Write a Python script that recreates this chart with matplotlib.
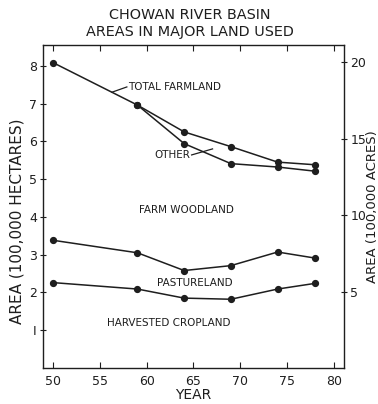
import matplotlib
matplotlib.use("Agg")
import matplotlib.pyplot as plt

# Land use in the Chowan River Basin (100,000 hectares)
years = [50, 59, 64, 69, 74, 78]
total_farmland = [8.08, 6.96, 6.25, 5.86, 5.45, 5.38]
other_years = [59, 64, 69, 74, 78]
other_boundary = [6.96, 5.94, 5.41, 5.32, 5.21]
pasture_boundary = [3.38, 3.05, 2.58, 2.71, 3.07, 2.91]
cropland = [2.26, 2.09, 1.85, 1.82, 2.09, 2.24]

ha_ticks = [1, 2, 3, 4, 5, 6, 7, 8]
ha_ticklabels = ["I", "2", "3", "4", "5", "6", "7", "8"]
acre_ticks = [5, 10, 15, 20]
year_ticks = [50, 55, 60, 65, 70, 75, 80]
ACRES_PER_HECTARE = 2.471

ink = "#1e1e1e"
plt.rcParams["font.family"] = ["DejaVu Sans"]

fig = plt.figure(figsize=(3.78, 4.04), dpi=100)
ax = fig.add_axes([0.1138, 0.0891, 0.7962, 0.7995])

line_kw = dict(color=ink, lw=1.1, marker="o", ms=4.2, mfc=ink, mec=ink)
ax.plot(years, total_farmland, **line_kw)
ax.plot(other_years, other_boundary, **line_kw)
ax.plot(years, pasture_boundary, **line_kw)
ax.plot(years, cropland, **line_kw)

ax.set_xlim(48.9, 81.1)
ax.set_ylim(0, 8.55)
ax.set_xticks(year_ticks)
ax.set_yticks(ha_ticks)
ax.set_yticklabels(ha_ticklabels)
ax.tick_params(axis="x", direction="in", length=4, width=0.8, top=True,
               labelsize=9, colors=ink, pad=5)
ax.tick_params(axis="y", direction="inout", length=5, width=0.8,
               labelsize=9, colors=ink, pad=2)
for s in ax.spines.values():
    s.set_color(ink)
    s.set_linewidth(1.0)

ax.set_xlabel("YEAR", fontsize=10, color=ink, labelpad=0)
ax.set_ylabel("AREA (100,000 HECTARES)", fontsize=11, color=ink)
ax.yaxis.set_label_coords(-0.062, 0.455)

# Secondary scale in acres
ax2 = ax.twinx()
ax2.set_ylim(0, 8.55 * ACRES_PER_HECTARE)
ax2.set_yticks(acre_ticks)
ax2.tick_params(axis="y", direction="inout", length=5, width=0.8,
                labelsize=9, colors=ink, pad=2)
for s in ax2.spines.values():
    s.set_visible(False)
ax2.set_ylabel("AREA (100,000 ACRES)", fontsize=9.5, color=ink, labelpad=0)

# Area labels
lab_kw = dict(fontsize=7.5, color=ink, va="center")
ax.text(57.97, 7.43, "TOTAL FARMLAND", ha="left", **lab_kw)
ax.plot([56.27, 57.87], [7.30, 7.44], color=ink, lw=0.9)
ax.text(60.85, 5.64, "OTHER", ha="left", **lab_kw)
ax.plot([64.8, 67.04], [5.64, 5.80], color=ink, lw=0.9)
ax.text(64.27, 4.17, "FARM WOODLAND", ha="center", **lab_kw)
ax.text(65.12, 2.245, "PASTURELAND", ha="center", **lab_kw)
ax.text(62.3, 1.19, "HARVESTED CROPLAND", ha="center", **lab_kw)

fig.text(0.503, 0.962, "CHOWAN RIVER BASIN", ha="center", va="center",
         fontsize=10.4, color=ink)
fig.text(0.503, 0.920, "AREAS IN MAJOR LAND USED", ha="center", va="center",
         fontsize=10.4, color=ink)

fig.savefig("out.png", dpi=100, facecolor="white")
